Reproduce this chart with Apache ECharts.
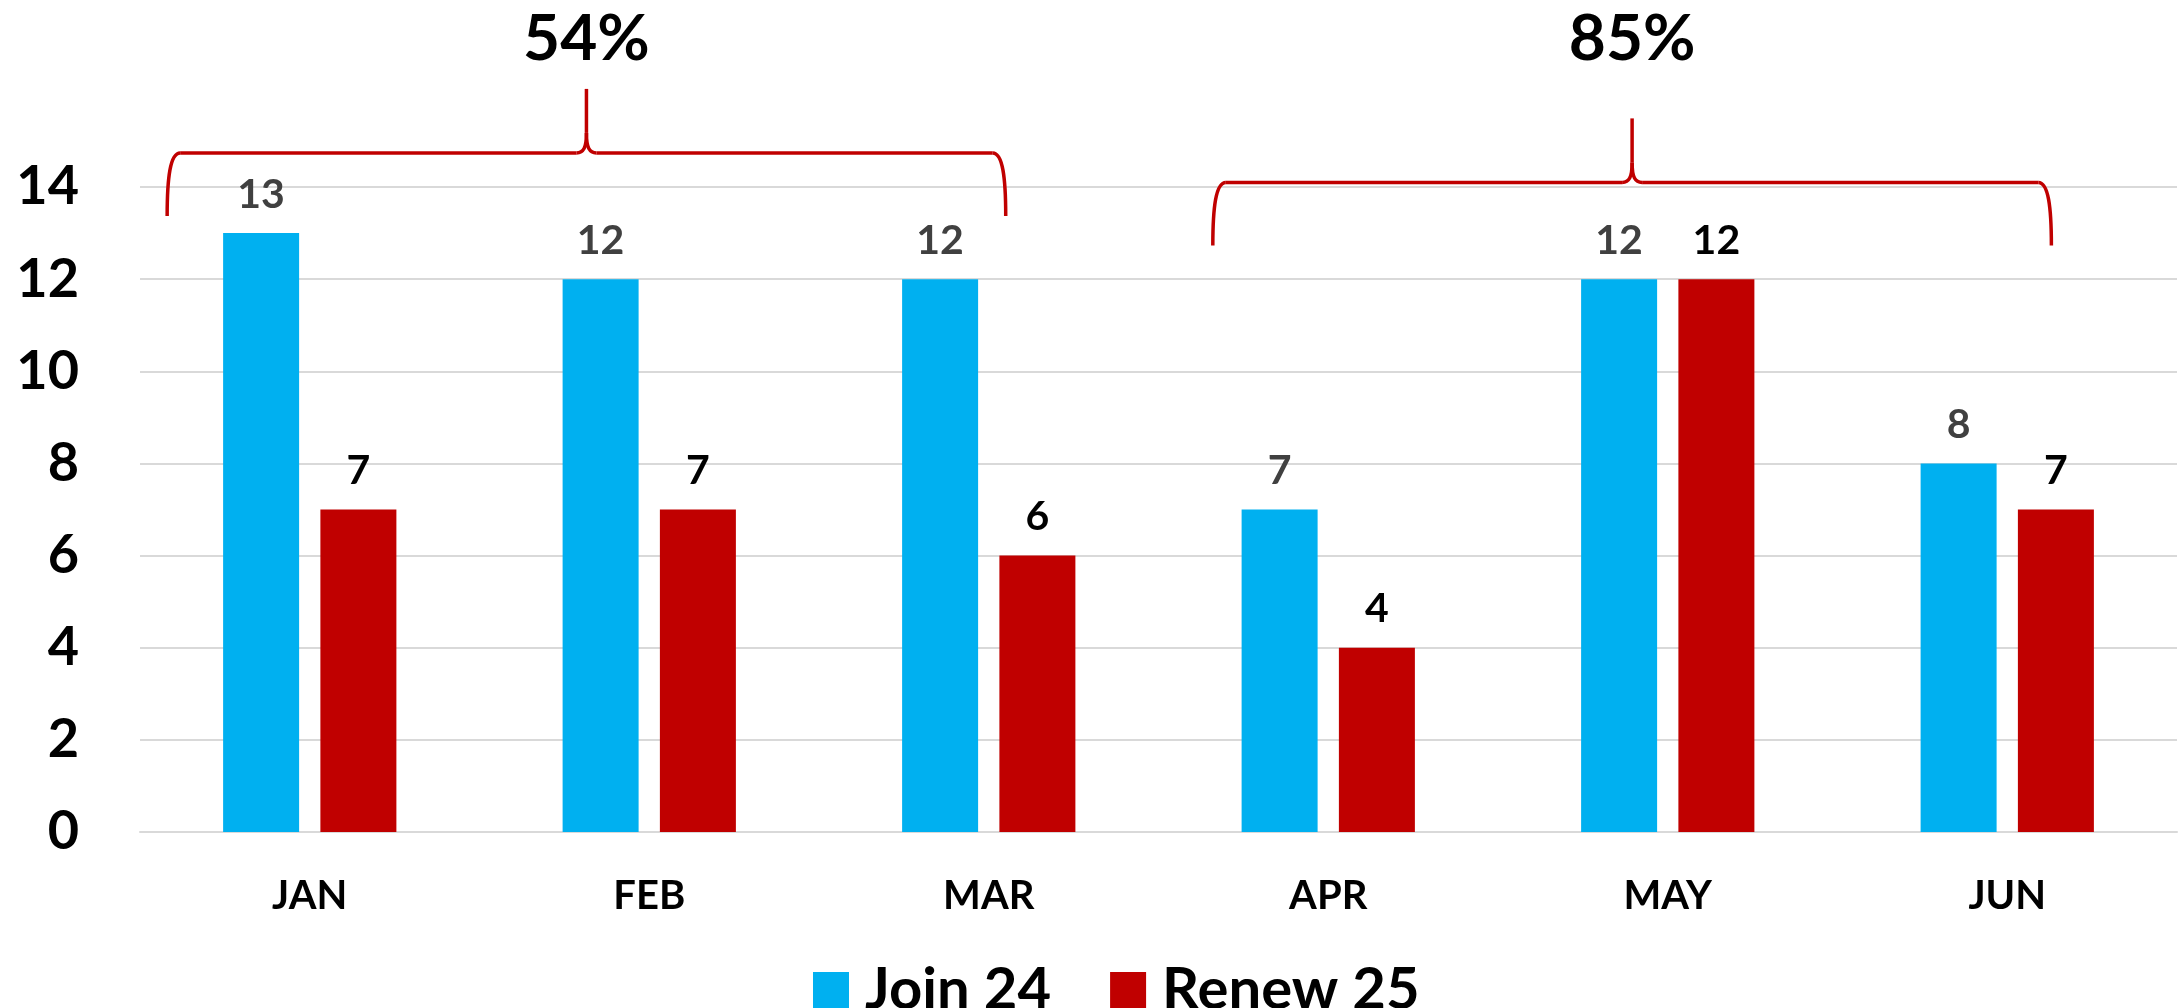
<!DOCTYPE html>
<html lang="en">
<head>
	<meta charset="UTF-8">
	<title>Join 24 / Renew 25</title>
	<style type="text/css">
		html, body { margin: 0; padding: 0; background: #fff; }
		#chart { width: 2178px; height: 1008px; }
	</style>
</head>
<body>
	<div id="chart"></div>
	<script type="text/javascript" src="https://cdn.jsdelivr.net/npm/echarts@6/dist/echarts.min.js"></script>
	<script type="text/javascript">
		// data
		var months = ['JAN', 'FEB', 'MAR', 'APR', 'MAY', 'JUN'];
		var join24 = [13, 12, 12, 7, 12, 8];
		var renew25 = [7, 7, 6, 4, 12, 7];
		var yTicks = [0, 2, 4, 6, 8, 10, 12, 14];

		// brace annotations (category index span, level in axis units)
		var braceText = ['54%', '85%'];
		var braceFrom = [-0.42, 2.66];
		var braceTo = [2.05, 5.13];
		var braceLevel = [14.74, 14.1];
		var braceTextLevel = 17.2;

		var font = 'Lato';
		var red = '#c00000';
		var myChart = echarts.init(document.getElementById('chart'));

		var option = {
			animation: false,
			backgroundColor: '#fff',
			grid: { left: 140, right: 1, top: 187, bottom: 176 },
			legend: {
				left: 808,
				top: 956,
				itemWidth: 36,
				itemHeight: 36,
				itemGap: 59,
				icon: 'rect',
				textStyle: {
					fontFamily: font, fontWeight: 'bold', fontSize: 58, color: '#000',
					padding: [0, 0, 0, 11]
				},
				data: ['Join 24', 'Renew 25']
			},
			xAxis: {
				type: 'category',
				data: months,
				axisLine: { show: true, lineStyle: { color: '#d9d9d9', width: 2 } },
				axisTick: { show: false },
				axisLabel: { fontFamily: font, fontWeight: 'bold', fontSize: 40, color: '#000', margin: 44 }
			},
			yAxis: {
				type: 'value',
				min: yTicks[0],
				max: yTicks[yTicks.length - 1],
				interval: 2,
				axisLine: { show: false },
				axisTick: { show: false },
				splitLine: { lineStyle: { color: '#d9d9d9', width: 2 } },
				axisLabel: { fontFamily: font, fontWeight: 'bold', fontSize: 54, color: '#000', margin: 61 }
			},
			series: [
				{
					name: 'Join 24',
					type: 'bar',
					data: join24,
					barWidth: 76,
					barGap: '28%',
					itemStyle: { color: '#00b0f0' },
					label: {
						show: true, position: 'top', distance: 18,
						fontFamily: font, fontWeight: 'bold', fontSize: 41, color: '#404040'
					}
				},
				{
					name: 'Renew 25',
					type: 'bar',
					data: renew25,
					barWidth: 76,
					barGap: '28%',
					itemStyle: { color: red },
					label: {
						show: true, position: 'top', distance: 18,
						fontFamily: font, fontWeight: 'bold', fontSize: 41, color: '#000'
					}
				}
			]
		};
		myChart.setOption(option);

		function curve(x1, y1, c1x, c1y, c2x, c2y, x2, y2) {
			return {
				type: 'bezierCurve',
				shape: { x1: x1, y1: y1, cpx1: c1x, cpy1: c1y, cpx2: c2x, cpy2: c2y, x2: x2, y2: y2 },
				style: { fill: null, stroke: red, lineWidth: 3.5 }
			};
		}
		function seg(x1, y1, x2, y2) {
			return {
				type: 'line',
				shape: { x1: x1, y1: y1, x2: x2, y2: y2 },
				style: { stroke: red, lineWidth: 3.5 }
			};
		}

		// category axis snaps to whole indices, so interpolate between two of them
		var c0 = myChart.convertToPixel({ gridIndex: 0 }, [0, 0]);
		var c1 = myChart.convertToPixel({ gridIndex: 0 }, [1, 0]);
		var step = c1[0] - c0[0];
		function catX(idx) { return c0[0] + idx * step; }
		function valY(v) { return myChart.convertToPixel({ gridIndex: 0 }, [0, v])[1]; }

		// braces drawn from axis coordinates
		var graphics = [];
		for (var i = 0; i < braceText.length; i++) {
			var x0 = catX(braceFrom[i]), x1 = catX(braceTo[i]), yh = valY(braceLevel[i]);
			var xc = (x0 + x1) / 2;
			graphics.push(curve(x0, yh + 63, x0, yh + 25, x0 + 3, yh, x0 + 13, yh));
			graphics.push(seg(x0 + 13, yh, xc - 10, yh));
			graphics.push(curve(xc - 10, yh, xc - 3, yh, xc, yh - 5, xc, yh - 20));
			graphics.push(seg(xc, yh - 20, xc, yh - 64));
			graphics.push(curve(xc, yh - 20, xc, yh - 5, xc + 3, yh, xc + 10, yh));
			graphics.push(seg(xc + 10, yh, x1 - 13, yh));
			graphics.push(curve(x1 - 13, yh, x1 - 3, yh, x1, yh + 25, x1, yh + 63));
			graphics.push({
				type: 'text',
				x: xc,
				y: valY(braceTextLevel),
				style: {
					text: braceText[i], fontFamily: font, fontWeight: 'bold', fontSize: 64,
					fill: '#000', align: 'center', verticalAlign: 'middle'
				}
			});
		}
		myChart.setOption({ graphic: graphics });
	</script>
</body>
</html>
